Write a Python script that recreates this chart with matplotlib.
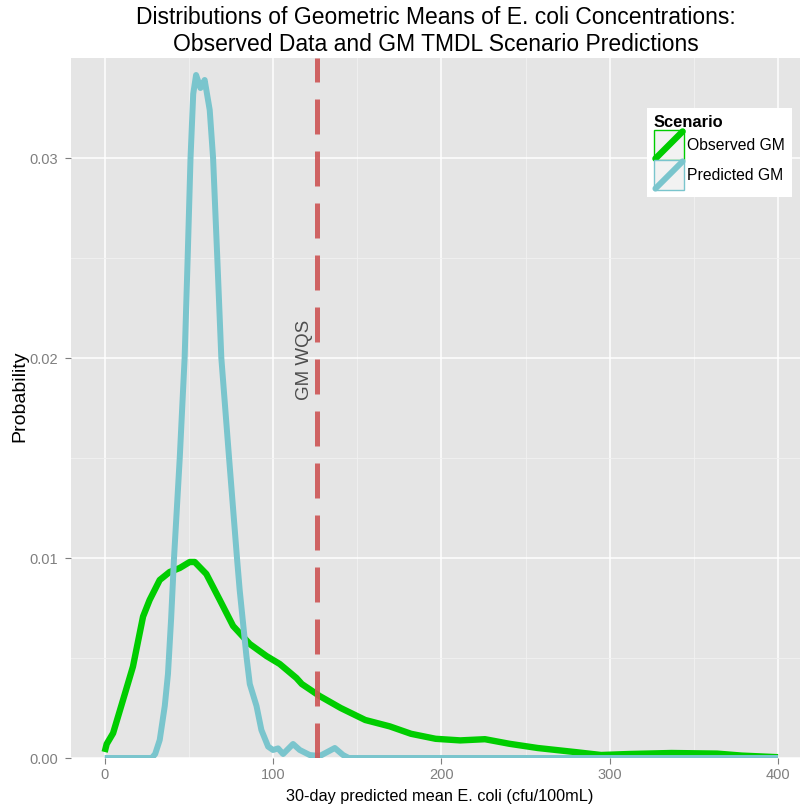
import matplotlib.pyplot as plt
from matplotlib.legend_handler import HandlerBase
from matplotlib.lines import Line2D
from matplotlib.patches import Rectangle

plt.rcParams['font.family'] = ['Liberation Sans', 'DejaVu Sans']

# density of observed 30-day geometric means
obs_x = [0, 1.2, 5, 10.9, 16.8, 22.8, 26.7, 32.7, 38.6, 44.6, 50.5, 53.5, 60.4,
         68.4, 76.3, 86.2, 96.1, 104, 113.9, 117.1, 127.7, 140.2, 154.8, 169.4,
         182, 196.6, 211.2, 225.9, 240.5, 257.2, 280.2, 294.9, 311.6, 336.7,
         363.8, 378.5, 400]
obs_y = [0.0003, 0.0007, 0.00124, 0.0029, 0.00457, 0.00707, 0.0079, 0.0089,
         0.0093, 0.0095, 0.0098, 0.0098, 0.0092, 0.0079, 0.0066, 0.0057, 0.0051,
         0.0047, 0.0040, 0.0037, 0.0031, 0.0025, 0.0019, 0.00158, 0.00121,
         0.00096, 0.00088, 0.00094, 0.00071, 0.0005, 0.00029, 0.00015, 0.0002,
         0.00025, 0.00022, 0.00012, 0.00004]

# density of TMDL scenario predictions
pred_x = [0, 28, 30, 32.7, 35.7, 37.6, 39.5, 41.2, 44.6, 47.5, 49.3, 51.0, 51.8,
          52.6, 54.3, 56.9, 59.4, 62.4, 64.4, 66.9, 69.3, 73.9, 78.6, 80.2, 84.2,
          86.2, 90.2, 93.1, 97.1, 100, 103, 106, 111.9, 115.9, 121.8, 127.8,
          136.7, 141.6, 145, 400]
pred_y = [0, 0, 0.0002, 0.0009, 0.0026, 0.0042, 0.007, 0.010, 0.015, 0.020,
          0.025, 0.030, 0.0316, 0.0332, 0.03415, 0.0335, 0.0339, 0.0324, 0.030,
          0.025, 0.020, 0.015, 0.010, 0.0084, 0.0051, 0.0037, 0.0026, 0.0014,
          0.00057, 0.0004, 0.00048, 0.0002, 0.0007, 0.0004, 0.00015, 0.0001,
          0.0005, 0.00015, 0, 0]

gm_wqs = 126

green = '#00CD00'
blue = '#7AC5CD'
red = '#CD5555'
grey_txt = '#7F7F7F'


class KeyHandler(HandlerBase):
    def create_artists(self, legend, orig_handle, xdescent, ydescent,
                       width, height, fontsize, trans):
        c = orig_handle.get_color()
        x0, y0 = -xdescent, -ydescent
        box = Rectangle((x0, y0), width, height, facecolor='#F2F2F2',
                        edgecolor=c, lw=1, transform=trans)
        diag = Line2D([x0 + 1, x0 + width - 1], [y0 + 1, y0 + height - 1],
                      color=c, lw=orig_handle.get_linewidth(),
                      solid_capstyle='round', transform=trans)
        return [box, diag]


fig = plt.figure(figsize=(8, 8.09), dpi=100)
ax = fig.add_axes([71 / 800, 51 / 809, 740.7 / 800, 700 / 809])
ax.set_facecolor('#E5E5E5')
for s in ax.spines.values():
    s.set_visible(False)

ax.set_xlim(-20, 420)
ax.set_ylim(0, 0.035)
ax.set_xticks([0, 100, 200, 300, 400])
ax.set_xticks([50, 150, 250, 350], minor=True)
ax.set_yticks([0, 0.01, 0.02, 0.03])
ax.set_yticklabels(['0.00', '0.01', '0.02', '0.03'])
ax.set_yticks([0.005, 0.015, 0.025], minor=True)
ax.grid(which='major', color='white', lw=1.1)
ax.grid(which='minor', color='#F2F2F2', lw=0.6)
ax.set_axisbelow(True)
ax.tick_params(which='major', colors=grey_txt, labelsize=10.5, length=4, width=0.8)
ax.tick_params(axis='x', pad=3)
ax.tick_params(axis='y', pad=5)
ax.tick_params(which='minor', length=0)

l_obs, = ax.plot(obs_x, obs_y, color=green, lw=4.6, solid_joinstyle='round',
                 solid_capstyle='butt', label='Observed GM', zorder=3)
l_pred, = ax.plot(pred_x, pred_y, color=blue, lw=4.3, solid_joinstyle='round',
                  solid_capstyle='butt', label='Predicted GM', zorder=4)
ax.axvline(gm_wqs, color=red, lw=3.6, alpha=0.9, dashes=(7, 3.4), zorder=5)
ax.text(gm_wqs - 7, 0.0199, 'GM WQS', rotation=90, ha='center', va='center',
        fontsize=13.5, color='#4D4D4D')

leg = ax.legend(handles=[l_obs, l_pred], title='Scenario', loc='upper left',
                bbox_to_anchor=(0.7776, 0.9286), borderaxespad=0,
                handler_map={Line2D: KeyHandler()},
                handlelength=1.91, handleheight=2.56, handletextpad=0.2,
                labelspacing=0.0, borderpad=0.45, fontsize=11.3, frameon=True,
                fancybox=False, framealpha=1, edgecolor='white',
                title_fontproperties={'weight': 'bold', 'size': 11.9},
                alignment='left')
leg.get_frame().set_linewidth(0)

ax.set_xlabel('30-day predicted mean E. coli (cfu/100mL)', fontsize=11.7)
ax.xaxis.set_label_coords(0.498, -0.0443)
ax.set_ylabel('Probability', fontsize=14)
ax.yaxis.set_label_coords(-0.058, 0.517)

fig.text(0.545, 1 - 31 / 809,
         'Distributions of Geometric Means of E. coli Concentrations:\n'
         'Observed Data and GM TMDL Scenario Predictions',
         ha='center', va='center', fontsize=16.5, linespacing=1.2)

fig.savefig('out.png', dpi=100, facecolor='white')
